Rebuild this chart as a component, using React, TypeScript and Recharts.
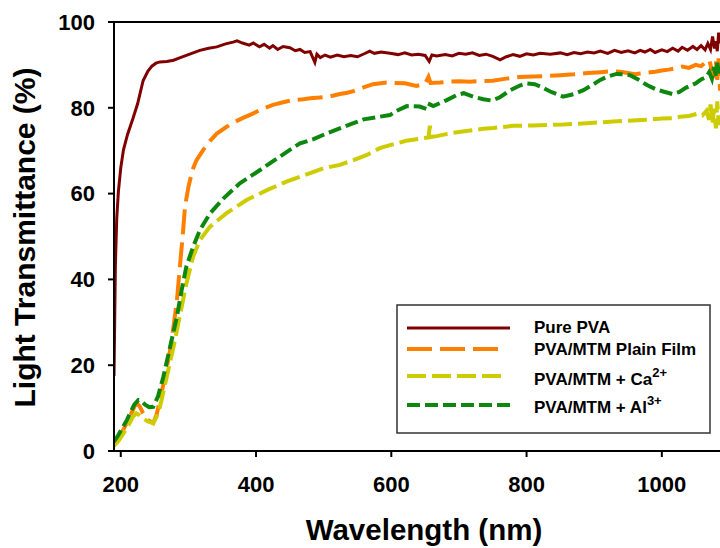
import React from 'react';
import { LineChart, Line, XAxis, YAxis, ReferenceLine, Legend, Label } from 'recharts';

// [wavelength (nm), transmittance (%)]
const purePVA: number[][] = [
  [190, 17.5], [191, 30], [192, 43], [194, 54], [196.5, 60.5], [200, 66], [204, 70.2], [210, 73.8],
  [218, 77.5], [225, 81], [233, 86.3], [240, 88.5], [246, 89.7], [252, 90.4], [258, 90.7], [268, 90.8],
  [278, 91.1], [290, 91.8], [300, 92.4], [307, 92.8], [317, 93.4], [330, 93.9], [342, 94.2], [355, 94.9],
  [366, 95.3], [372, 95.6], [380, 95.1], [390, 94.6], [396, 95.1], [405, 94.2], [412, 94.8], [420, 93.9],
  [425, 94.5], [432, 93.6], [440, 94.3], [450, 94.0], [458, 93.3], [465, 93.6], [472, 92.9], [480, 93.1],
  [487, 90.6], [490, 92.5], [495, 91.7], [502, 92.3], [510, 91.8], [520, 92.3], [530, 91.9], [540, 92.2],
  [550, 91.9], [560, 92.6], [568, 93.2], [575, 92.7], [585, 93.0], [598, 92.7], [610, 92.4], [620, 92.8],
  [630, 92.3], [640, 92.5], [650, 92.2], [656, 90.8], [660, 92.3], [667, 92.1], [680, 92.4], [690, 92.1],
  [700, 92.7], [710, 92.5], [720, 92.8], [730, 92.2], [740, 92.5], [750, 92.0], [761, 91.2], [770, 91.9],
  [780, 92.4], [790, 92.0], [800, 92.6], [810, 92.3], [820, 92.7], [835, 92.5], [850, 92.8], [860, 92.4],
  [870, 92.9], [880, 92.6], [890, 93.0], [900, 92.8], [909, 93.2], [920, 92.7], [930, 93.4], [940, 92.9],
  [950, 93.3], [960, 92.8], [968, 93.4], [975, 93.0], [983, 93.6], [990, 92.9], [1000, 93.5], [1008, 93.1],
  [1016, 93.9], [1024, 93.2], [1030, 94.1], [1038, 93.4], [1046, 94.3], [1052, 93.6], [1058, 94.5], [1064, 93.5],
  [1068, 95.0], [1072, 93.6], [1075, 96.6], [1078, 93.8], [1080, 95.5], [1082, 93.2], [1084, 97.5], [1086, 95.0],
];

const plainFilm: number[][] = [
  [190, 1.8], [196, 3.2], [204, 5.0], [212, 7.5], [220, 10.3], [224, 11.1], [228, 10.4], [233, 8.8],
  [240, 7.2], [248, 6.5], [253, 8.5], [258, 11.9], [265, 17], [273, 23.5], [278, 29], [283, 35],
  [288, 44], [292, 51], [295, 57], [300, 61.5], [306, 65.5], [312, 67.8], [322, 70.2], [332, 72.3],
  [342, 74], [355, 75.4], [366, 76.5], [380, 77.6], [396, 78.7], [410, 79.8], [425, 80.7], [440, 81.3],
  [455, 81.8], [470, 82.0], [480, 82.2], [494, 82.4], [510, 82.7], [524, 83.2], [535, 83.5], [544, 83.9],
  [560, 84.8], [573, 85.5], [593, 85.9], [605, 85.8], [620, 85.7], [637, 85.1], [650, 85.6], [655, 87.2],
  [658, 85.8], [672, 85.9], [686, 86.1], [701, 86.2], [716, 86.1], [731, 86.2], [750, 86.3], [770, 86.8],
  [790, 87.2], [810, 87.3], [830, 87.4], [850, 87.6], [870, 87.8], [890, 88.1], [910, 88.3], [925, 88.5],
  [938, 88.4], [950, 88.1], [960, 87.8], [968, 88.0], [978, 88.2], [990, 88.4], [1000, 88.7], [1010, 88.9],
  [1020, 89.2], [1030, 89.6], [1040, 89.3], [1050, 90.0], [1058, 89.7], [1064, 90.5], [1070, 91.2], [1074, 88.8],
  [1077, 87.0], [1080, 90.8], [1082, 86.5], [1084, 91.5], [1086, 84.0],
];

const caFilm: number[][] = [
  [190, 1.2], [196, 2.2], [204, 4.1], [212, 6.2], [218, 8.0], [223, 8.8], [228, 8.3], [233, 7.6],
  [240, 6.9], [248, 6.5], [253, 8.0], [258, 10.3], [268, 17.3], [278, 24.3], [288, 32], [297, 39],
  [307, 45.3], [317, 49.2], [332, 52.3], [356, 55.4], [386, 58.5], [416, 60.8], [445, 62.8], [465, 63.9],
  [482, 64.9], [500, 65.9], [524, 66.7], [544, 67.8], [564, 69.0], [583, 70.6], [598, 71.3], [622, 72.3],
  [647, 72.9], [655, 73.1], [657, 75.8], [659, 73.2], [667, 73.4], [692, 74.2], [711, 74.6], [736, 75.1],
  [751, 75.3], [780, 75.8], [810, 75.9], [854, 76.1], [890, 76.4], [928, 76.8], [950, 77.0], [978, 77.2],
  [1000, 77.5], [1016, 77.6], [1027, 77.9], [1040, 78.1], [1052, 78.6], [1060, 78.2], [1066, 79.3], [1070, 77.2],
  [1072, 80.8], [1075, 76.5], [1077, 79.8], [1080, 75.2], [1082, 81.5], [1084, 76.0], [1086, 78.5],
];

const alFilm: number[][] = [
  [190, 2.2], [196, 3.6], [204, 5.8], [209, 7.2], [215, 9.2], [220, 10.8], [226, 11.9], [230, 11.7],
  [236, 10.8], [242, 10.2], [248, 10.3], [255, 12.7], [263, 17.3], [273, 24.3], [283, 31.3], [290, 37.5],
  [297, 43], [307, 47.6], [317, 51.5], [332, 55.4], [352, 58.9], [376, 62.4], [406, 65.5], [435, 68.6],
  [450, 70.2], [465, 71.7], [485, 72.7], [504, 74], [529, 75.5], [544, 76.4], [559, 77.3], [578, 77.8],
  [598, 78.3], [608, 79.3], [623, 80.4], [642, 80.3], [654, 79.6], [657, 80.8], [662, 80.4], [682, 81.8],
  [697, 83.0], [707, 83.4], [721, 82.6], [736, 82.0], [748, 81.7], [760, 82.4], [776, 84.1], [790, 85.2],
  [800, 85.7], [812, 85.5], [820, 85.0], [835, 83.8], [854, 82.6], [870, 83.2], [884, 84.1], [897, 85.3],
  [909, 86.5], [920, 87.3], [933, 87.9], [945, 87.8], [953, 87.6], [965, 86.6], [978, 85.3], [990, 84.4],
  [1002, 83.8], [1016, 83.2], [1026, 83.7], [1036, 84.7], [1046, 85.4], [1051, 85.8], [1058, 86.6], [1066, 87.2],
  [1070, 88.3], [1074, 86.8], [1077, 89.5], [1080, 87.5], [1082, 90.5], [1084, 88.0], [1086, 89.5],
];

const xTicks = [200, 400, 600, 800, 1000];
const yTicks = [0, 20, 40, 60, 80, 100];

const FONT = '"Liberation Sans", Arial, Helvetica, sans-serif';

const toRows = (pts: number[][]) => pts.map(([wl, t]) => ({ wl, t }));

const series = [
  { key: 'pure', name: 'Pure PVA', sup: '', data: toRows(purePVA), color: '#800000', dash: undefined as string | undefined, width: 3, legendLen: 103 },
  { key: 'plain', name: 'PVA/MTM Plain Film', sup: '', data: toRows(plainFilm), color: '#FF8000', dash: '25 8', width: 4, legendLen: 91 },
  { key: 'ca', name: 'PVA/MTM + Ca', sup: '2+', data: toRows(caFilm), color: '#CCCC00', dash: '19 6', width: 4, legendLen: 98 },
  { key: 'al', name: 'PVA/MTM + Al', sup: '3+', data: toRows(alFilm), color: '#0E870E', dash: '13 5', width: 4, legendLen: 103 },
];

const legendRows = [
  { lineY: 24, textY: 29 },
  { lineY: 45, textY: 51 },
  { lineY: 72, textY: 81 },
  { lineY: 101, textY: 109 },
];

const LegendBox = () => (
  <svg width={316} height={131} style={{ display: 'block' }}>
    <rect x={1} y={1} width={313} height={128} fill="#fff" stroke="#333" strokeWidth={1.5} />
    {series.map((s, i) => (
      <g key={s.key}>
        <line
          x1={11}
          x2={11 + s.legendLen}
          y1={legendRows[i].lineY}
          y2={legendRows[i].lineY}
          stroke={s.color}
          strokeWidth={s.width}
          strokeDasharray={s.dash}
        />
        <text x={138} y={legendRows[i].textY} fontFamily={FONT} fontWeight="bold" fontSize={17} fill="#000">
          {s.name}
          {s.sup ? (
            <tspan dy={-8} fontSize={13}>
              {s.sup}
            </tspan>
          ) : null}
        </text>
      </g>
    ))}
  </svg>
);

const XTitle = (props: any) => {
  const vb = props.viewBox || { x: 114, y: 451, width: 606, height: 97 };
  return (
    <text
      x={vb.x + vb.width / 2 + 7}
      y={vb.y + vb.height - 8}
      textAnchor="middle"
      fontFamily={FONT}
      fontWeight="bold"
      fontSize={29.5}
      fill="#000"
    >
      Wavelength (nm)
    </text>
  );
};

const YTitle = (props: any) => {
  const vb = props.viewBox || { x: 0, y: 22, width: 114, height: 429 };
  const cx = vb.x + 35;
  const cy = vb.y + vb.height / 2 + 1;
  return (
    <text
      x={cx}
      y={cy}
      transform={`rotate(-90, ${cx}, ${cy})`}
      textAnchor="middle"
      fontFamily={FONT}
      fontWeight="bold"
      fontSize={30}
      fill="#000"
    >
      Light Transmittance (%)
    </text>
  );
};

const tickStyle = { fontFamily: FONT, fontWeight: 'bold' as const, fontSize: 22, fill: '#000' };

export default function App() {
  return (
    <div style={{ position: 'absolute', left: 0, top: 0, width: 720, height: 548, background: '#fff' }}>
      <LineChart width={720} height={548} margin={{ top: 22, right: 0, bottom: 0, left: 0 }}>
        <XAxis
          dataKey="wl"
          type="number"
          domain={[190, 1086]}
          allowDataOverflow
          ticks={xTicks}
          height={97}
          tickSize={6}
          tickMargin={19}
          tick={tickStyle}
          axisLine={{ stroke: '#000', strokeWidth: 2 }}
          tickLine={{ stroke: '#000', strokeWidth: 2 }}
        >
          <Label content={<XTitle />} />
        </XAxis>
        <YAxis
          type="number"
          domain={[0, 100]}
          ticks={yTicks}
          width={114}
          tickSize={6}
          tickMargin={13}
          tick={tickStyle}
          axisLine={{ stroke: '#000', strokeWidth: 2 }}
          tickLine={{ stroke: '#000', strokeWidth: 2 }}
        >
          <Label content={<YTitle />} />
        </YAxis>
        <ReferenceLine y={100} stroke="#000" strokeWidth={2} />
        {series.map((s) => (
          <Line
            key={s.key}
            data={s.data}
            dataKey="t"
            name={s.name}
            type="linear"
            stroke={s.color}
            strokeWidth={s.width}
            strokeDasharray={s.dash}
            dot={false}
            activeDot={false}
            isAnimationActive={false}
          />
        ))}
        <Legend
          layout="vertical"
          align="center"
          verticalAlign="middle"
          content={<LegendBox />}
          wrapperStyle={{ position: 'absolute', left: 396, top: 304, width: 316, height: 131 }}
        />
      </LineChart>
    </div>
  );
}
